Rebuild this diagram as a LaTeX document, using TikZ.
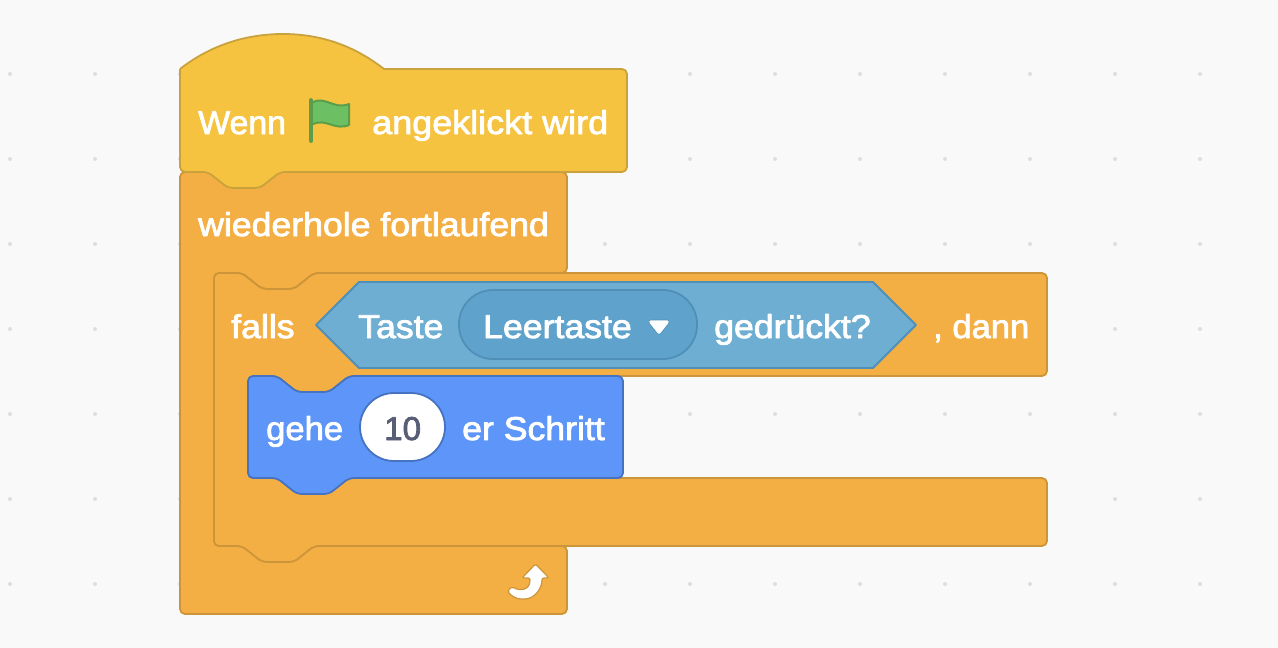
\documentclass[tikz,border=0pt]{standalone}
\usepackage{fontspec}
\setmainfont{Liberation Sans}[FakeBold=2.4, FakeStretch=1.08]
\usepackage{xcolor}
\definecolor{canvasgray}{HTML}{F9F9F9}
\definecolor{griddot}{HTML}{DEDEDE}
\definecolor{eventfill}{HTML}{F5C33F}
\definecolor{eventline}{HTML}{C9A23D}
\definecolor{controlfill}{HTML}{F3AF43}
\definecolor{controlline}{HTML}{CC953A}
\definecolor{sensefill}{HTML}{6EAED2}
\definecolor{senseline}{HTML}{4F8FB8}
\definecolor{menufill}{HTML}{5FA3CD}
\definecolor{motionfill}{HTML}{5E95F8}
\definecolor{motionline}{HTML}{4573C2}
\definecolor{numbergray}{HTML}{575E75}
\definecolor{flagfill}{HTML}{6CBF62}
\definecolor{flagline}{HTML}{5A9E4C}
\newcommand{\notchin}{-- ++(20,16) -- ++(32,0) -- ++(20,-16)}
\newcommand{\notchout}{-- ++(-20,16) -- ++(-32,0) -- ++(-20,-16)}

\begin{document}
\begin{tikzpicture}[x=1pt, y=-1pt, line join=round,
    every node/.style={font=\fontsize{33}{33}\selectfont, inner sep=0pt, anchor=base west},
    blocktext/.style={text=white},
    block/.style={line width=1.8pt, rounded corners=5pt}]
    \useasboundingbox (0,0) rectangle (1278,648);
    \fill[canvasgray] (0,0) rectangle (1278,648);

    % Punkte im Hintergrund
    \foreach \i in {0,...,14} {
        \foreach \j in {0,...,6} {
            \fill[griddot] (10+85*\i, 74+85*\j) circle (2);
        }
    }

    % wiederhole fortlaufend
    \draw[block, fill=controlfill, draw=controlline] (180,172) -- (567,172) -- (567,273) -- (314,273) \notchout
        -- (214,273) -- (214,546) -- (567,546) -- (567,614) -- (180,614) -- cycle;

    % Wenn angeklickt
    \draw[line width=1.8pt, fill=eventfill, draw=eventline] (180,69)
        .. controls (212,44) and (248,34) .. (283,34)
        .. controls (318,34) and (352,44) .. (384,69)
        [rounded corners=5pt] -- (627,69) -- (627,172) -- (280,172)
        \notchout -- (180,172) -- (180,69);

    % falls
    \draw[block, fill=controlfill, draw=controlline] (214,273) -- (242,273) \notchin
        -- (1047,273) -- (1047,376) -- (349,376) \notchout -- (248,376) -- (248,478) -- (1047,478) -- (1047,546)
        -- (314,546) \notchout -- (214,546) -- cycle;

    % Taste gedrueckt
    \draw[line width=1.8pt, fill=sensefill, draw=senseline] (316,325) -- (359,282) -- (873,282)
        -- (916,325) -- (873,368) -- (359,368) -- cycle;
    \draw[line width=1.8pt, fill=menufill, draw=senseline, rounded corners=34pt] (459,290) rectangle (697,359);
    \draw[line width=3.5pt, fill=white, draw=white, preaction={draw=senseline, line width=5pt}] (651,322) -- (667,322) -- (659,332) -- cycle;

    % gehe
    \draw[block, fill=motionfill, draw=motionline] (248,376) -- (277,376) \notchin
        -- (623,376) -- (623,478) -- (349,478) \notchout -- (248,478) -- cycle;
    \draw[line width=1.8pt, fill=white, draw=motionline, rounded corners=34pt] (360,393) rectangle (445,461);

    % Flagge
    \draw[line width=2pt, fill=flagfill, draw=flagline] (313,102)
        .. controls (326,96) and (334,110) .. (349,104) -- (349,125)
        .. controls (335,131) and (326,118) .. (313,124);
    \draw[line width=3.8pt, draw=flagline, line cap=round] (311,100) -- (311,141);

    % Pfeil
    \draw[line width=1.2pt, fill=white, draw=controlline, rounded corners=2pt] (535.5,564) -- (549,578) -- (542,578)
        .. controls (542,589) and (534,599) .. (523,599)
        .. controls (517,599) and (511,596) .. (507.5,591) -- (512,586.5)
        .. controls (519,591) and (530,591) .. (530,578) -- (522,578) -- cycle;

    % Beschriftung
    \node[blocktext] (wenn) at (198,134) {\scalebox{0.95}[1]{Wenn}};
    \node[blocktext] (angeklickt) at (372,134) {\scalebox{1.01}[1]{angeklickt wird}};
    \node[blocktext] (wiederhole) at (198,236) {wiederhole fortlaufend};
    \node[blocktext] (falls) at (231,338) {falls};
    \node[blocktext] (taste) at (358,338) {Taste};
    \node[blocktext] (leertaste) at (483,338) {Leertaste};
    \node[blocktext] (gedrueckt) at (714,338) {gedrückt?};
    \node[blocktext] (dann) at (933,338) {\scalebox{0.97}[1]{, dann}};
    \node[blocktext] (gehe) at (266,440) {\scalebox{0.97}[1]{gehe}};
    \node[text=numbergray] (zehn) at (384,440) {\scalebox{0.93}[1]{10}};
    \node[blocktext] (schritt) at (462,440) {er Schritt};
\end{tikzpicture}
\end{document}
